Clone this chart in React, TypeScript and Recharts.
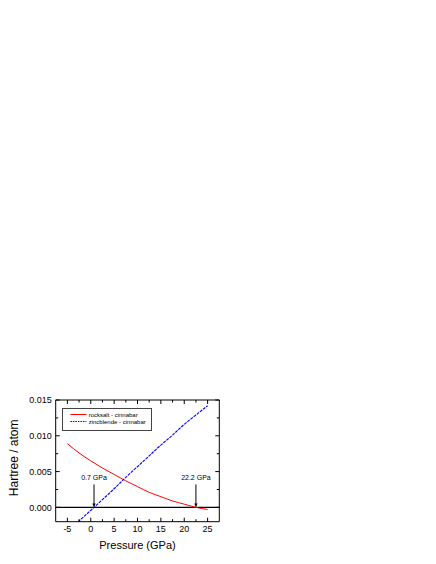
import React from 'react';
import { LineChart, Line, XAxis, YAxis, ReferenceLine, Legend } from 'recharts';

const pressureRock = [-5, -2.5, 0, 2.5, 5, 7.5, 10, 12.5, 15, 17.5, 20, 22.5, 25];
const rocksaltCinnabar = [0.0089, 0.0076, 0.0065, 0.0055, 0.0046, 0.0037, 0.0029, 0.0021, 0.0015, 0.0009, 0.00045, 0.0, -0.0003];

const pressureZinc = [-2.7, 0, 2.5, 5, 7.5, 10, 12.5, 15, 17.5, 20, 22.5, 25];
const zincblendeCinnabar = [-0.002, -0.00042, 0.00108, 0.0026, 0.0042, 0.0057, 0.0072, 0.0087, 0.0101, 0.0116, 0.0129, 0.0142];

const xTicks = [-5, -2.5, 0, 2.5, 5, 7.5, 10, 12.5, 15, 17.5, 20, 22.5, 25];
const yTicks = [0, 0.0025, 0.005, 0.0075, 0.01, 0.0125, 0.015];

const arrowX = [0.7, 22.5];
const arrowTop = [0.0032, 0.0032];
const arrowLabels = ['0.7 GPa', '22.2 GPa'];

const seriesNames = ['rocksalt - cinnabar', 'zincblende - cinnabar'];

const rockData = pressureRock.map((p, i) => ({ x: p, y: rocksaltCinnabar[i] }));
const zincData = pressureZinc.map((p, i) => ({ x: p, y: zincblendeCinnabar[i] }));

const FONT = '"Liberation Sans", Arial, sans-serif';

const isMajorX = (v: number) => Math.abs(v / 5 - Math.round(v / 5)) < 1e-6;
const isMajorY = (v: number) => Math.abs(v / 0.005 - Math.round(v / 0.005)) < 1e-6;

const BottomTick = (props: any) => {
  const { x, y, payload } = props;
  const major = isMajorX(payload.value);
  return (
    <g>
      <line x1={x} y1={y} x2={x} y2={y - (major ? 4 : 2.5)} stroke="#000" strokeWidth={1} />
      {major && (
        <text x={x} y={y + 10} textAnchor="middle" fontSize={9} fontFamily={FONT} fill="#000">
          {String(payload.value)}
        </text>
      )}
    </g>
  );
};

const TopTick = (props: any) => {
  const { x, y, payload } = props;
  const major = isMajorX(payload.value);
  return <line x1={x} y1={y} x2={x} y2={y + (major ? 4 : 2.5)} stroke="#000" strokeWidth={1} />;
};

const LeftTick = (props: any) => {
  const { x, y, payload } = props;
  const major = isMajorY(payload.value);
  return (
    <g>
      <line x1={x} y1={y} x2={x + (major ? 4 : 2.5)} y2={y} stroke="#000" strokeWidth={1} />
      {major && (
        <text x={x - 4} y={y + 3.2} textAnchor="end" fontSize={9} fontFamily={FONT} fill="#000">
          {payload.value.toFixed(3)}
        </text>
      )}
    </g>
  );
};

const RightTick = (props: any) => {
  const { x, y, payload } = props;
  const major = isMajorY(payload.value);
  return <line x1={x} y1={y} x2={x - (major ? 4 : 2.5)} y2={y} stroke="#000" strokeWidth={1} />;
};

const LegendBox = () => (
  <svg width={90} height={23} style={{ display: 'block' }}>
    <rect x={0.5} y={0.5} width={89} height={22} fill="#fff" stroke="#444" strokeWidth={1} />
    <line x1={8.4} y1={6.5} x2={24.4} y2={6.5} stroke="#ff0000" strokeWidth={1} />
    <text x={26.7} y={8.6} fontSize={6} fontFamily={FONT} fill="#000">{seriesNames[0]}</text>
    <line x1={8.4} y1={13.5} x2={24.4} y2={13.5} stroke="#0000ff" strokeWidth={1} strokeDasharray="1.5 1" />
    <text x={26.7} y={15.6} fontSize={6} fontFamily={FONT} fill="#000">{seriesNames[1]}</text>
  </svg>
);

const makeArrow = (label: string) => (props: any) => {
  const { x1, y1, x2, y2 } = props;
  return (
    <g>
      <line x1={x1} y1={y1} x2={x2} y2={y2 - 3} stroke="#000" strokeWidth={1} />
      <polygon points={`${x2},${y2} ${x2 - 1.6},${y2 - 4} ${x2 + 1.6},${y2 - 4}`} fill="#000" />
      <text x={x1} y={y1 - 4} textAnchor="middle" fontSize={7} fontFamily={FONT} fill="#000">
        {label}
      </text>
    </g>
  );
};

export default function App() {
  return (
    <LineChart
      width={428}
      height={548}
      margin={{ top: 391, right: 215.7, bottom: 4.3, left: 7.7 }}
    >
      <XAxis
        xAxisId="b"
        dataKey="x"
        type="number"
        domain={[-7.5, 27.5]}
        ticks={xTicks}
        interval={0}
        height={30}
        tickSize={0}
        tickMargin={0}
        tickLine={false}
        tick={<BottomTick />}
        axisLine={{ stroke: '#000', strokeWidth: 1 }}
        allowDataOverflow
        label={{
          content: (p: any) => {
            const vb = p.viewBox;
            return (
              <text x={vb.x + vb.width / 2} y={vb.y + 27.3} textAnchor="middle" fontSize={11} fontFamily={FONT} fill="#000">
                Pressure (GPa)
              </text>
            );
          },
        }}
      />
      <XAxis
        xAxisId="t"
        orientation="top"
        dataKey="x"
        type="number"
        domain={[-7.5, 27.5]}
        ticks={xTicks}
        interval={0}
        height={1}
        tickSize={0}
        tickMargin={0}
        tickLine={false}
        tick={<TopTick />}
        axisLine={{ stroke: '#000', strokeWidth: 1 }}
        allowDataOverflow
      />
      <YAxis
        yAxisId="l"
        type="number"
        domain={[-0.002, 0.015]}
        ticks={yTicks}
        interval={0}
        width={40}
        tickSize={0}
        tickMargin={0}
        tickLine={false}
        tick={<LeftTick />}
        axisLine={{ stroke: '#000', strokeWidth: 1 }}
        allowDataOverflow
        label={{
          content: (p: any) => {
            const vb = p.viewBox;
            const cx = 10;
            const cy = vb.y + vb.height / 2 - 3;
            return (
              <text x={cx} y={cy} transform={`rotate(-90, ${cx}, ${cy})`} textAnchor="middle" fontSize={12} fontFamily={FONT} fill="#000">
                Hartree / atom
              </text>
            );
          },
        }}
      />
      <YAxis
        yAxisId="r"
        orientation="right"
        type="number"
        domain={[-0.002, 0.015]}
        ticks={yTicks}
        interval={0}
        width={1}
        tickSize={0}
        tickMargin={0}
        tickLine={false}
        tick={<RightTick />}
        axisLine={{ stroke: '#000', strokeWidth: 1 }}
        allowDataOverflow
      />
      <ReferenceLine xAxisId="b" yAxisId="l" y={0} stroke="#000" strokeWidth={1.2} />
      {arrowX.map((ax, i) => (
        <ReferenceLine
          key={i}
          xAxisId="b"
          yAxisId="l"
          segment={[{ x: ax, y: arrowTop[i] }, { x: ax, y: 0 }]}
          shape={makeArrow(arrowLabels[i])}
        />
      ))}
      <Line
        xAxisId="b"
        yAxisId="l"
        data={rockData}
        dataKey="y"
        name={seriesNames[0]}
        type="monotone"
        stroke="#ff0000"
        strokeWidth={1}
        dot={false}
        isAnimationActive={false}
      />
      <Line
        xAxisId="b"
        yAxisId="l"
        data={zincData}
        dataKey="y"
        name={seriesNames[1]}
        type="monotone"
        stroke="#0000ff"
        strokeWidth={1.1}
        strokeDasharray="3 1"
        dot={false}
        isAnimationActive={false}
      />
      <Legend
        layout="vertical"
        align="center"
        verticalAlign="middle"
        content={<LegendBox />}
        wrapperStyle={{ left: 54.3, top: 399.7, width: 90, height: 23 }}
      />
    </LineChart>
  );
}
